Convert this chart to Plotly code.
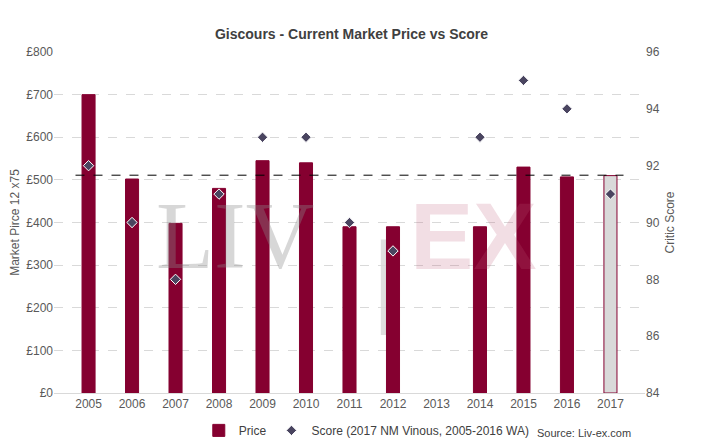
import plotly.graph_objects as go

years = ["2005", "2006", "2007", "2008", "2009", "2010", "2011", "2012", "2013", "2014", "2015", "2016", "2017"]
prices = [700, 502, 398, 480, 545, 540, 390, 390, None, 390, 530, 507, 510]
scores = [92, 90, 88, 91, 93, 93, 90, 89, None, 93, 95, 94, 91]
current_price = 511

bar_colors = ["#850030"] * 12 + ["#d9d9d9"]

fig = go.Figure()

fig.add_trace(go.Bar(
    x=years, y=prices, name="Price",
    marker=dict(color=bar_colors, line=dict(color="#850030", width=1)),
    width=0.3
))
fig.add_trace(go.Scatter(
    x=years, y=scores, name="Score (2017 NM Vinous, 2005-2016 WA)",
    mode="markers", yaxis="y2",
    marker=dict(symbol="diamond", size=8, color="#4a4560", line=dict(color="white", width=1))
))
fig.add_shape(type="line", xref="x", yref="y", x0=-0.3, x1=12.3,
              y0=current_price, y1=current_price,
              line=dict(color="black", width=1, dash="dash"))

# watermark
fig.add_annotation(text="LIV", x=0.17, y=0.30, xref="paper", yref="paper", showarrow=False,
                   font=dict(family="Liberation Serif", size=95, color="rgba(140,140,140,0.35)"))
fig.add_shape(type="rect", xref="paper", yref="paper", x0=0.553, x1=0.566, y0=0.17, y1=0.45,
              fillcolor="rgba(150,150,150,0.3)", line=dict(width=0), layer="below")
fig.add_annotation(text="<b>EX</b>", x=0.82, y=0.30, xref="paper", yref="paper", showarrow=False,
                   font=dict(family="Liberation Sans", size=95, color="rgba(190,90,120,0.2)"))
fig.add_annotation(text="Source: Liv-ex.com", x=0.98, y=-0.117, xref="paper", yref="paper",
                   yanchor="middle", showarrow=False, xanchor="right",
                   font=dict(family="Liberation Sans", size=11, color="#404040"))

fig.update_layout(
    paper_bgcolor="white", plot_bgcolor="white",
    font=dict(family="Liberation Sans", size=12, color="#595959"),
    title=dict(text="<b>Giscours - Current Market Price vs Score</b>", x=0.5, y=0.95,
               font=dict(size=14, color="#404040")),
    margin=dict(l=46, r=50, t=44, b=46, autoexpand=False),
    showlegend=True,
    legend=dict(orientation="h", x=0.245, y=0.02, yref="container", yanchor="middle",
                xanchor="left", font=dict(size=12, color="#404040"), itemwidth=30),
    bargap=0.6,
    xaxis=dict(showline=True, linecolor="#d9d9d9", ticks="", tickfont=dict(size=12), automargin=False),
    yaxis=dict(range=[0, 800], dtick=100, tickprefix="£", showgrid=True, automargin=False,
               gridcolor="#d9d9d9", griddash="dash", zeroline=False,
               title=dict(text="Market Pirce 12 x75", font=dict(size=12), standoff=6)),
    yaxis2=dict(range=[84, 96], dtick=2, overlaying="y", side="right", showgrid=False,
                zeroline=False, automargin=False,
                title=dict(text="Critic Score", font=dict(size=12), standoff=6)),
)

fig.write_html("out.html")
